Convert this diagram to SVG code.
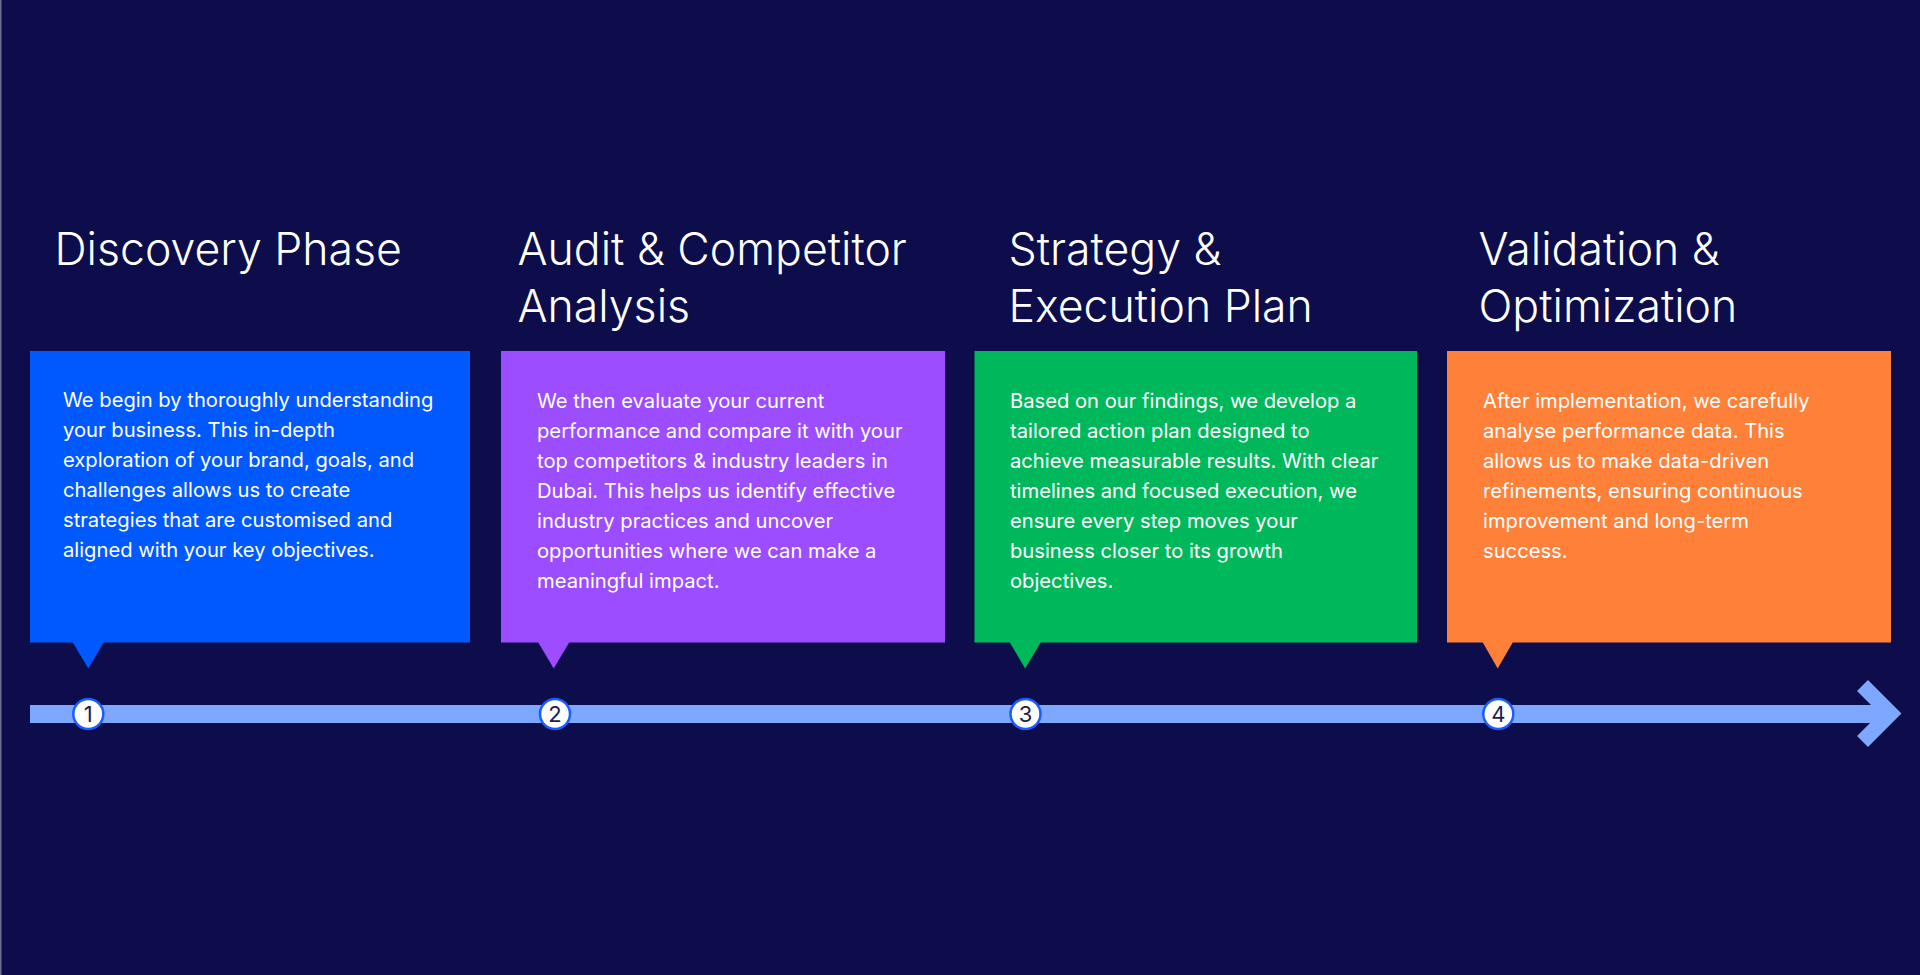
<svg xmlns="http://www.w3.org/2000/svg" width="1920" height="975" viewBox="0 0 1920 975">
  <style>
    .h { font-family: Inter, "Noto Sans", "Liberation Sans", sans-serif; font-size: 44.6px; fill: #ffffff; font-weight: 300; }
    .b { font-family: Inter, "Noto Sans", "Liberation Sans", sans-serif; font-size: 20.2px; fill: #ffffff; font-weight: 400; }
    .num { font-family: Inter, "Noto Sans", "Liberation Sans", sans-serif; font-size: 22px; fill: #1e1d4e; text-anchor: middle; }
    .dot { fill: #ffffff; stroke: #1a5cff; stroke-width: 2.5; }
  </style>
  <rect x="0" y="0" width="1920" height="975" fill="#0c0d4a"/>
  <line x1="0.75" y1="0" x2="0.75" y2="975" stroke="#6e7090" stroke-width="1.5"/>

  <g id="connectors">
    <rect x="30" y="705" width="1852" height="18" fill="#7ea8ff"/>
    <polyline points="1862.5,685.5 1890.5,713.5 1862.5,741.5" fill="none" stroke="#7ea8ff" stroke-width="15.5" stroke-linejoin="miter" stroke-miterlimit="4"/>
  </g>

  <g id="step1">
    <text class="h" x="54.5" y="265">Discovery Phase</text>
    <rect x="30" y="351" width="440" height="291.5" fill="#0058ff"/>
    <polygon points="72.5,642 104,642 88.3,668.5" fill="#0058ff"/>
    <text class="b">
      <tspan x="63" y="406.7">We begin by thoroughly understanding</tspan>
      <tspan x="63" y="436.7">your business. This in-depth</tspan>
      <tspan x="63" y="466.7">exploration of your brand, goals, and</tspan>
      <tspan x="63" y="496.7">challenges allows us to create</tspan>
      <tspan x="63" y="526.7">strategies that are customised and</tspan>
      <tspan x="63" y="556.7">aligned with your key objectives.</tspan>
    </text>
    <circle class="dot" cx="88.3" cy="714" r="15"/>
    <text class="num" x="88.3" y="722">1</text>
  </g>

  <g id="step2">
    <text class="h" x="517.5" y="265">Audit &amp; Competitor</text>
    <text class="h" x="517.5" y="322">Analysis</text>
    <rect x="501" y="351" width="444" height="291.5" fill="#9b4dff"/>
    <polygon points="538,642 569.5,642 553.7,668.5" fill="#9b4dff"/>
    <text class="b">
      <tspan x="537" y="408.3">We then evaluate your current</tspan>
      <tspan x="537" y="438.3">performance and compare it with your</tspan>
      <tspan x="537" y="468.3">top competitors &amp; industry leaders in</tspan>
      <tspan x="537" y="498.3">Dubai. This helps us identify effective</tspan>
      <tspan x="537" y="528.3">industry practices and uncover</tspan>
      <tspan x="537" y="558.3">opportunities where we can make a</tspan>
      <tspan x="537" y="588.3">meaningful impact.</tspan>
    </text>
    <circle class="dot" cx="555" cy="714" r="15"/>
    <text class="num" x="555" y="722">2</text>
  </g>

  <g id="step3">
    <text class="h" x="1008.5" y="265">Strategy &amp;</text>
    <text class="h" x="1008.5" y="322">Execution Plan</text>
    <rect x="974.5" y="351" width="442.5" height="291.5" fill="#00b85c"/>
    <polygon points="1009.5,642 1041,642 1025.2,668.5" fill="#00b85c"/>
    <text class="b">
      <tspan x="1010" y="408.3">Based on our findings, we develop a</tspan>
      <tspan x="1010" y="438.3">tailored action plan designed to</tspan>
      <tspan x="1010" y="468.3">achieve measurable results. With clear</tspan>
      <tspan x="1010" y="498.3">timelines and focused execution, we</tspan>
      <tspan x="1010" y="528.3">ensure every step moves your</tspan>
      <tspan x="1010" y="558.3">business closer to its growth</tspan>
      <tspan x="1010" y="588.3">objectives.</tspan>
    </text>
    <circle class="dot" cx="1025.5" cy="714" r="15"/>
    <text class="num" x="1025.5" y="722">3</text>
  </g>

  <g id="step4">
    <text class="h" x="1478.5" y="265">Validation &amp;</text>
    <text class="h" x="1478.5" y="322">Optimization</text>
    <rect x="1447" y="351" width="444" height="291.5" fill="#ff8038"/>
    <polygon points="1482.5,642 1513,642 1497.7,668.5" fill="#ff8038"/>
    <text class="b">
      <tspan x="1483" y="408.3">After implementation, we carefully</tspan>
      <tspan x="1483" y="438.3">analyse performance data. This</tspan>
      <tspan x="1483" y="468.3">allows us to make data-driven</tspan>
      <tspan x="1483" y="498.3">refinements, ensuring continuous</tspan>
      <tspan x="1483" y="528.3">improvement and long-term</tspan>
      <tspan x="1483" y="558.3">success.</tspan>
    </text>
    <circle class="dot" cx="1498.3" cy="714" r="15"/>
    <text class="num" x="1498.3" y="722">4</text>
  </g>
</svg>
